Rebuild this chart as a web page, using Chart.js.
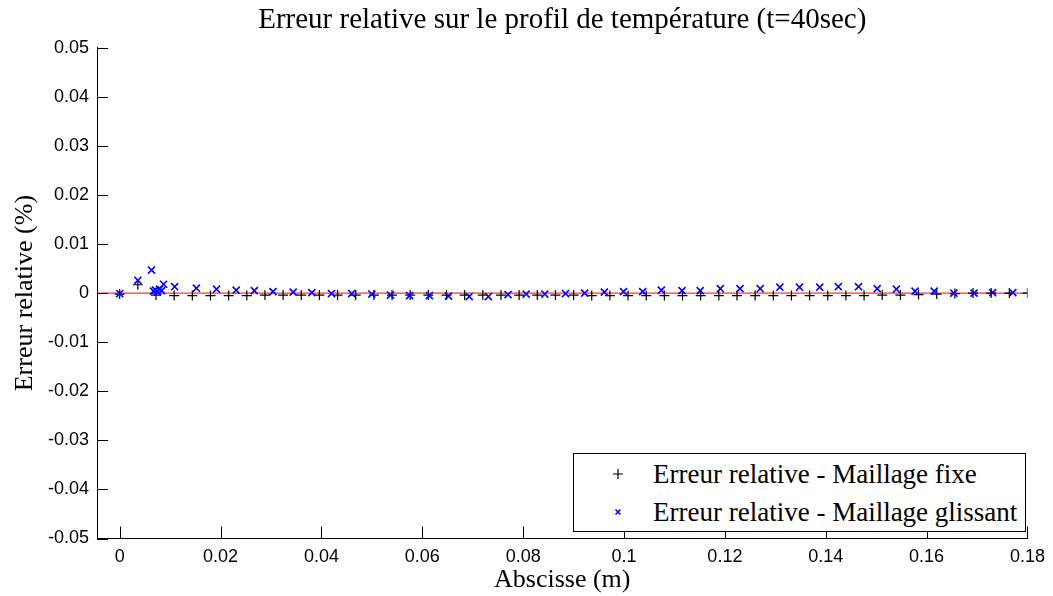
<!DOCTYPE html>
<html lang="fr">
<head>
<meta charset="utf-8">
<title>Erreur relative</title>
<script src="https://cdn.jsdelivr.net/npm/chart.js@4.4.1/dist/chart.umd.min.js"></script>
<style>
  html, body { margin: 0; padding: 0; background: #fff; }
  .wrap { position: relative; width: 1053px; height: 596px; }
  .legend {
    position: absolute;
    left: 573px;
    top: 453px;
    width: 451px;
    height: 77px;
    border: 1px solid #000;
    background: #fff;
    font-family: 'Liberation Serif', 'Times New Roman', serif;
    font-size: 27px;
    color: #000;
  }
  .legend-row { position: absolute; left: 0; height: 30px; line-height: 30px; white-space: nowrap; }
  .legend-row canvas { position: absolute; left: 34px; top: 5px; }
  .legend-row span { position: absolute; left: 79px; }
</style>
</head>
<body>
<div class="wrap">
  <canvas id="plot" width="1053" height="596"></canvas>
  <div class="legend" id="legend"></div>
</div>
<script>
const X_LIMITS = [-0.0045, 0.18];
const Y_LIMITS = [-0.05, 0.05];
const X_TICKS = [0, 0.02, 0.04, 0.06, 0.08, 0.1, 0.12, 0.14, 0.16, 0.18];
const Y_TICKS = [-0.05, -0.04, -0.03, -0.02, -0.01, 0, 0.01, 0.02, 0.03, 0.04, 0.05];

const SERIES_LABELS = [
  'Erreur relative - Maillage fixe',
  'Erreur relative - Maillage glissant'
];

// maillage fixe (+)
const FIXED_X = [
  0, 0.0036, 0.0072, 0.0108, 0.0144, 0.018, 0.0216, 0.0252, 0.0288, 0.0324,
  0.036, 0.0396, 0.0432, 0.0468, 0.0504, 0.054, 0.0576, 0.0612, 0.0648, 0.0684,
  0.072, 0.0756, 0.0792, 0.0828, 0.0864, 0.09, 0.0936, 0.0972, 0.1008, 0.1044,
  0.108, 0.1116, 0.1152, 0.1188, 0.1224, 0.126, 0.1296, 0.1332, 0.1368, 0.1404,
  0.144, 0.1476, 0.1512, 0.1548, 0.1584, 0.162, 0.1656, 0.1692, 0.1728, 0.1764,
  0.18
];
const FIXED_ERR = [
  -0.0002, 0.0017, -0.0004, -0.0005, -0.0005, -0.0005, -0.0005, -0.0005, -0.0004, -0.0004,
  -0.0004, -0.0004, -0.0004, -0.0004, -0.0004, -0.0004, -0.0004, -0.0004, -0.0004, -0.0004,
  -0.0004, -0.0004, -0.0004, -0.0004, -0.0004, -0.0004, -0.0005, -0.0005, -0.0005, -0.0005,
  -0.0005, -0.0005, -0.0005, -0.0005, -0.0005, -0.0005, -0.0005, -0.0005, -0.0005, -0.0005,
  -0.0005, -0.0005, -0.0004, -0.0004, -0.0003, -0.0002, -0.0001, 0, 0, 0,
  0
];

// maillage glissant (x)
const SLIDING_X = [
  0, 0.0036, 0.0063, 0.0067, 0.0071, 0.0075, 0.0079, 0.0083, 0.0087, 0.0109,
  0.0152, 0.0192, 0.0231, 0.0267, 0.0304, 0.0344, 0.0381, 0.042, 0.046, 0.05,
  0.0537, 0.0575, 0.0614, 0.0652, 0.0693, 0.0731, 0.077, 0.0806, 0.0843, 0.0884,
  0.0922, 0.0961, 0.0999, 0.1037, 0.1074, 0.1115, 0.1151, 0.1191, 0.123, 0.127,
  0.1309, 0.1348, 0.1388, 0.1425, 0.1465, 0.1502, 0.154, 0.1577, 0.1615, 0.1654,
  0.1694, 0.1731, 0.1771
];
const SLIDING_ERR = [
  -0.0001, 0.0026, 0.0047, 0.0004, 0.0006, 0.0003, 0.0008, 0.0005, 0.0018, 0.0013,
  0.0010, 0.0008, 0.0006, 0.0005, 0.0003, 0.0002, 0.0001, -0.0001, -0.0001, -0.0002,
  -0.0004, -0.0005, -0.0005, -0.0006, -0.0007, -0.0007, -0.0003, -0.0002, -0.0002, -0.0001,
  0, 0.0002, 0.0003, 0.0003, 0.0006, 0.0005, 0.0005, 0.0009, 0.0009, 0.0009,
  0.0012, 0.0012, 0.0012, 0.0013, 0.0013, 0.0009, 0.0008, 0.0004, 0.0004, 0,
  0, 0.0001, 0.0001
];

// ligne de reference a zero
const REF_X = [-0.0045, 0.18];
const REF_Y = [0, 0];

const CHART_AREA = { left: 97, top: 47.7, bottom: 538.5, right: 1032 };
const SERIF = "'Liberation Serif', 'Times New Roman', serif";
const SANS = "'Liberation Sans', Arial, sans-serif";

function toPoints(xs, ys) {
  return xs.map((x, i) => ({ x, y: ys[i] }));
}

function formatTick(value) {
  return String(Number(value.toFixed(2)));
}

// MATLAB style: tick marks inside the axes
const innerTicks = {
  id: 'innerTicks',
  afterDraw(chart) {
    const { ctx, chartArea, scales } = chart;
    ctx.save();
    ctx.strokeStyle = '#000';
    ctx.lineWidth = 1;
    ctx.beginPath();
    scales.x.ticks.forEach((t) => {
      const px = Math.round(scales.x.getPixelForValue(t.value)) + 0.5;
      ctx.moveTo(px, chartArea.bottom);
      ctx.lineTo(px, chartArea.bottom - 12);
    });
    scales.y.ticks.forEach((t) => {
      const py = Math.round(scales.y.getPixelForValue(t.value)) + 0.5;
      ctx.moveTo(chartArea.left, py);
      ctx.lineTo(chartArea.left + 11, py);
    });
    ctx.stroke();
    ctx.restore();
  }
};

// title centred over the axes, not over the whole canvas
const centreTitleOnAxes = {
  id: 'centreTitleOnAxes',
  beforeDraw(chart) {
    if (!chart.titleBlock) return;
    chart.titleBlock.left = chart.chartArea.left;
    chart.titleBlock.right = chart.chartArea.right;
  }
};

const canvas = document.getElementById('plot');
const chart = new Chart(canvas.getContext('2d'), {
  type: 'scatter',
  data: {
    datasets: [
      {
        label: 'ref',
        data: toPoints(REF_X, REF_Y),
        showLine: true,
        borderColor: '#ff0000',
        borderWidth: 1,
        pointRadius: 0,
        order: 3
      },
      {
        label: SERIES_LABELS[0],
        data: toPoints(FIXED_X, FIXED_ERR),
        pointStyle: 'cross',
        pointRadius: 5,
        borderColor: '#000',
        backgroundColor: '#000',
        pointBorderWidth: 1.2,
        order: 2
      },
      {
        label: SERIES_LABELS[1],
        data: toPoints(SLIDING_X, SLIDING_ERR),
        pointStyle: 'crossRot',
        pointRadius: 5,
        borderColor: '#0000ff',
        backgroundColor: '#0000ff',
        pointBorderWidth: 1.6,
        order: 1
      }
    ]
  },
  options: {
    responsive: false,
    animation: false,
    events: [],
    layout: { padding: { left: 0, right: 1053 - CHART_AREA.right, top: 0, bottom: 0 } },
    plugins: {
      legend: { display: false },
      tooltip: { enabled: false },
      title: {
        display: true,
        text: 'Erreur relative sur le profil de température (t=40sec)',
        color: '#000',
        font: { family: SERIF, size: 29, weight: 'normal', lineHeight: 1.2 },
        padding: { top: 2.6, bottom: CHART_AREA.top - 2.6 - 34.8 }
      }
    },
    scales: {
      x: {
        type: 'linear',
        min: X_LIMITS[0],
        max: X_LIMITS[1],
        afterBuildTicks(scale) {
          scale.ticks = X_TICKS.map((value) => ({ value }));
        },
        afterFit(scale) {
          scale.height = 596 - CHART_AREA.bottom;
        },
        grid: { display: false, drawTicks: false },
        border: { display: true, color: '#000', width: 1 },
        ticks: {
          color: '#000',
          padding: 8,
          maxRotation: 0,
          autoSkip: false,
          font: { family: SANS, size: 18 },
          callback: formatTick
        },
        title: {
          display: true,
          text: 'Abscisse (m)',
          color: '#000',
          font: { family: SERIF, size: 26, lineHeight: 1.2 },
          padding: { top: 0, bottom: 0 }
        }
      },
      y: {
        type: 'linear',
        min: Y_LIMITS[0],
        max: Y_LIMITS[1],
        afterBuildTicks(scale) {
          scale.ticks = Y_TICKS.map((value) => ({ value }));
        },
        afterFit(scale) {
          scale.width = CHART_AREA.left;
        },
        grid: { display: false, drawTicks: false },
        border: { display: true, color: '#000', width: 1 },
        ticks: {
          color: '#000',
          padding: 8,
          autoSkip: false,
          font: { family: SANS, size: 18 },
          callback: formatTick
        },
        title: {
          display: true,
          text: 'Erreur relative (%)',
          color: '#000',
          font: { family: SERIF, size: 26, lineHeight: 1.2 },
          padding: { top: 10, bottom: 0 }
        }
      }
    }
  },
  plugins: [innerTicks, centreTitleOnAxes]
});

// legend box, bottom right inside the axes
function buildLegend() {
  const legendBox = document.getElementById('legend');
  const rows = [
    { dataset: chart.data.datasets[1], top: 5 },
    { dataset: chart.data.datasets[2], top: 43 }
  ];
  rows.forEach(({ dataset, top }) => {
    const row = document.createElement('div');
    row.className = 'legend-row';
    row.style.top = top + 'px';
    const marker = document.createElement('canvas');
    marker.width = 20;
    marker.height = 20;
    const ctx = marker.getContext('2d');
    ctx.strokeStyle = dataset.borderColor;
    ctx.fillStyle = dataset.borderColor;
    ctx.lineWidth = dataset.pointBorderWidth;
    Chart.helpers.drawPoint(ctx, {
      pointStyle: dataset.pointStyle,
      radius: dataset.pointStyle === 'cross' ? 5 : 3.5,
      rotation: 0,
      borderWidth: dataset.pointBorderWidth
    }, 10, 10);
    const text = document.createElement('span');
    text.textContent = dataset.label;
    row.appendChild(marker);
    row.appendChild(text);
    legendBox.appendChild(row);
  });
}

buildLegend();
</script>
</body>
</html>
